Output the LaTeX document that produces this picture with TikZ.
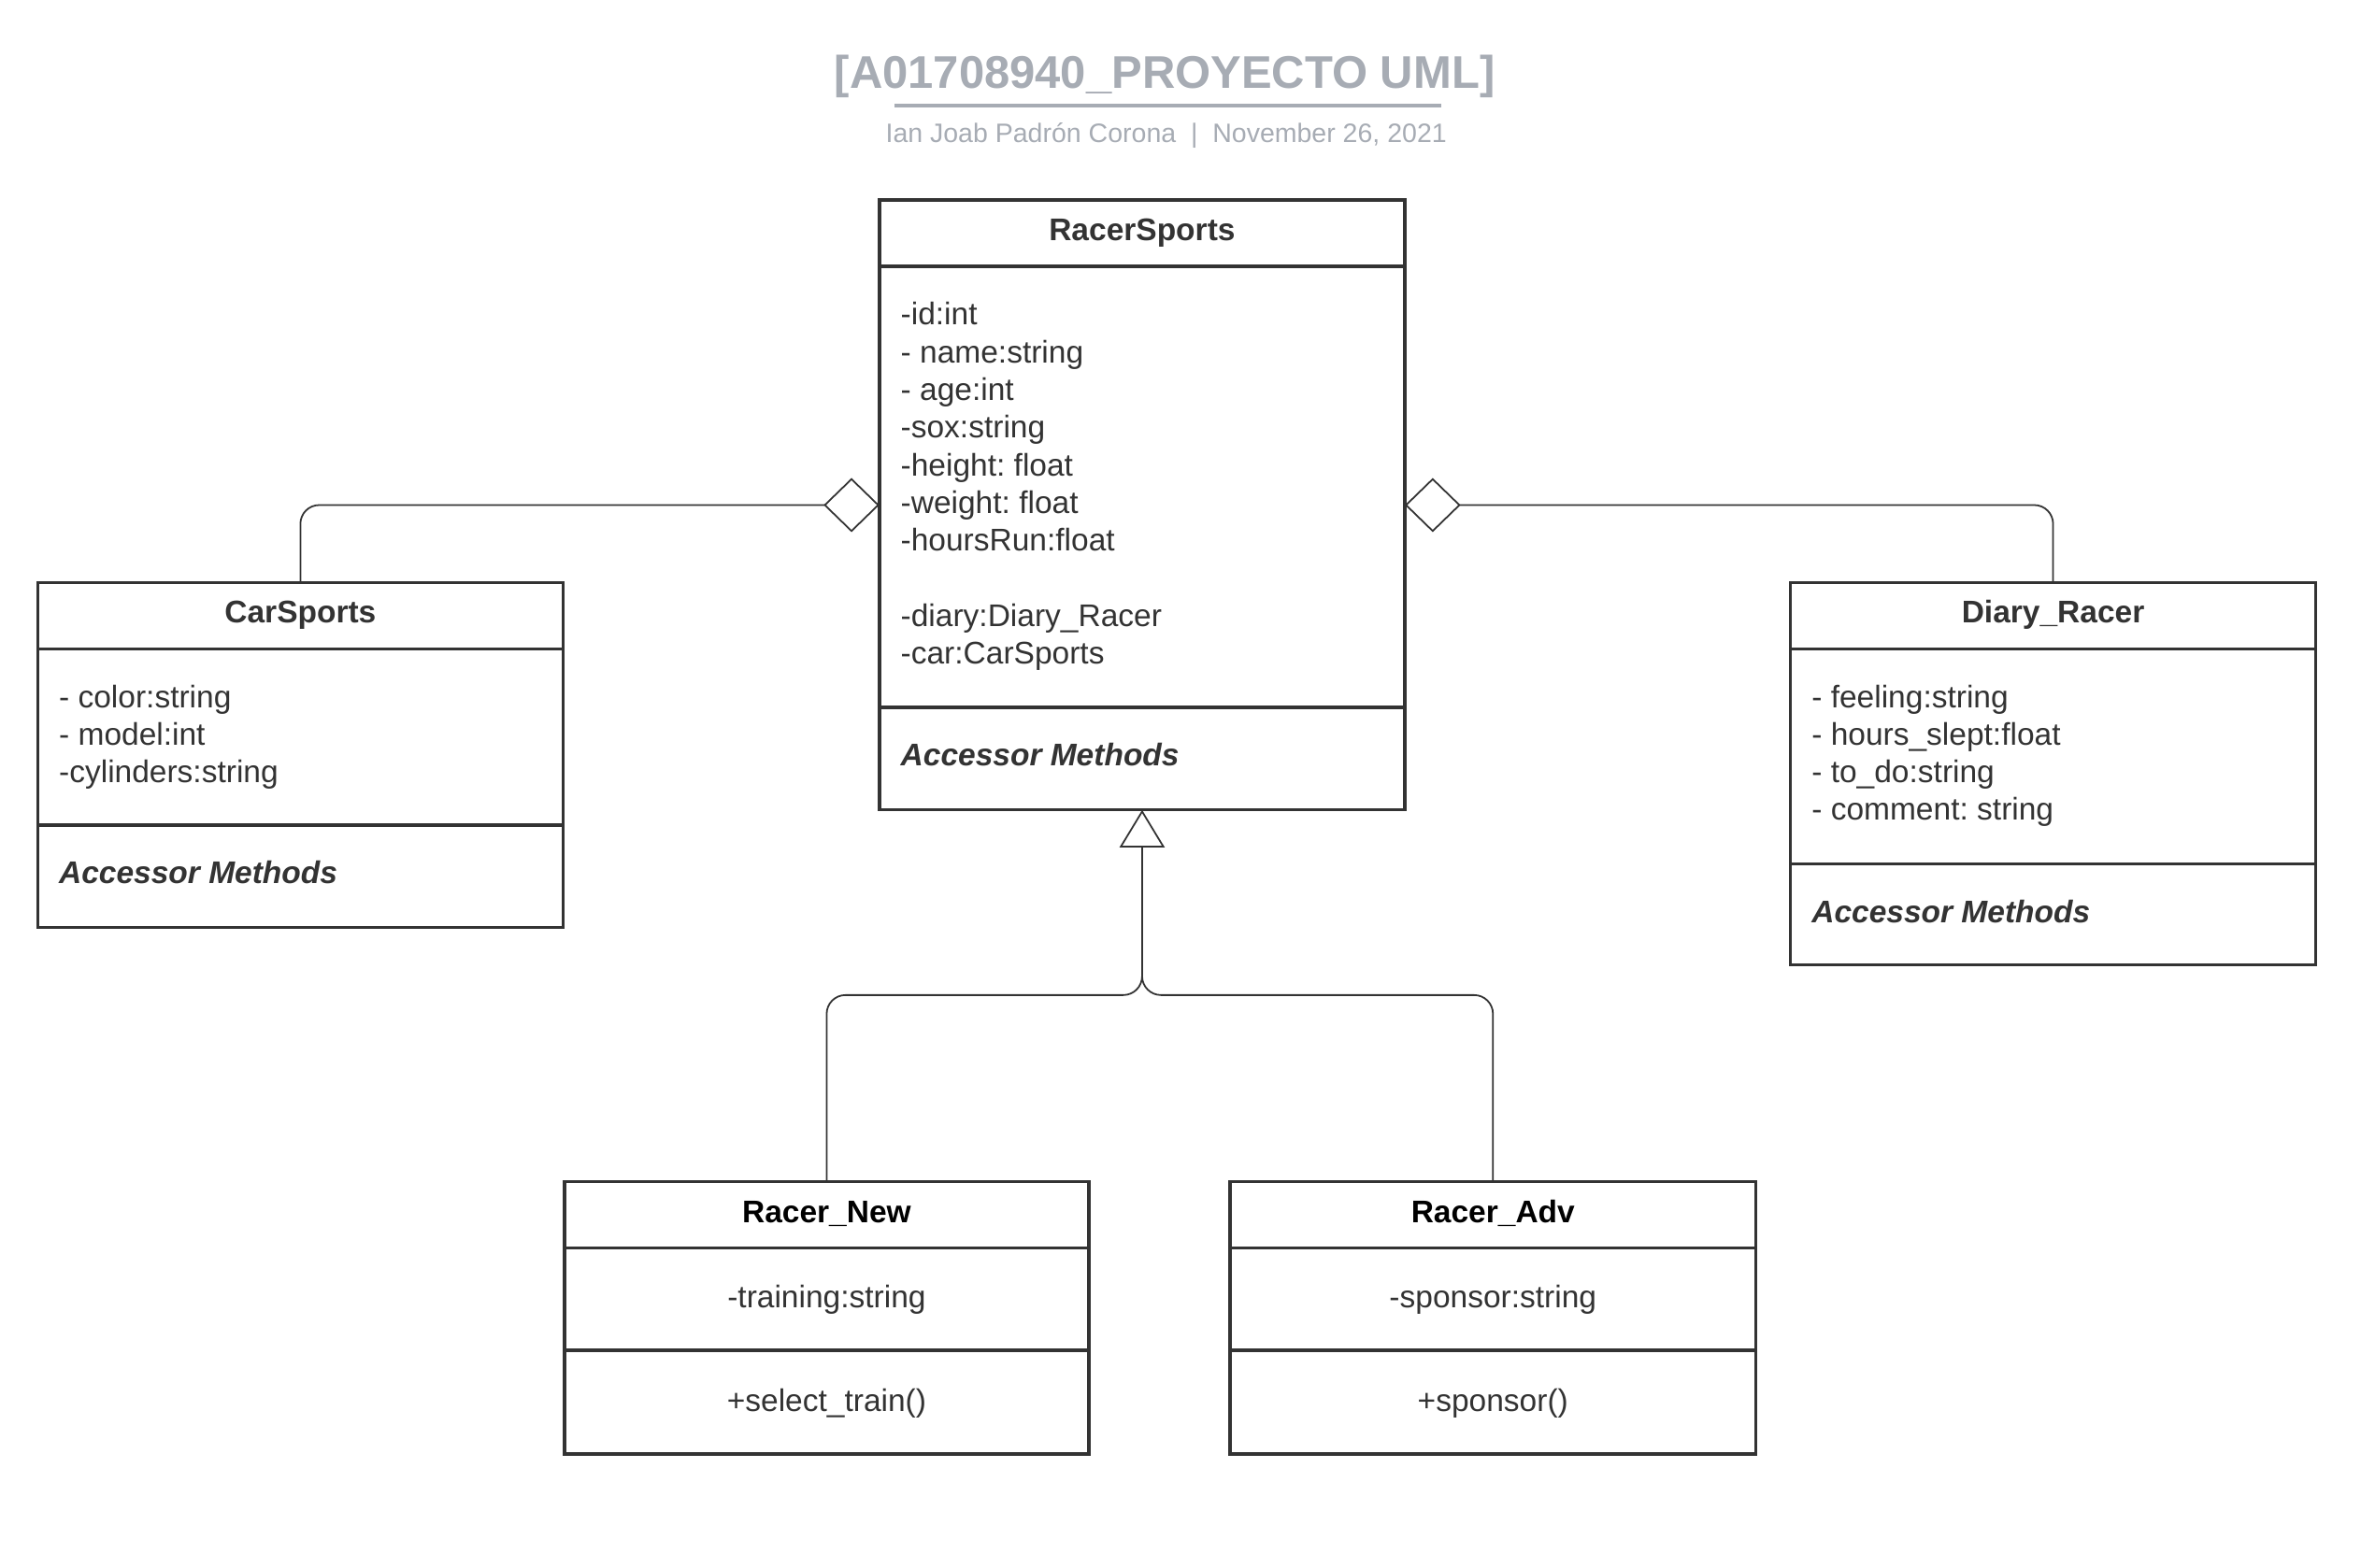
\documentclass[tikz,border=0pt]{standalone}
\usepackage{fontspec}
\setmainfont{Liberation Sans}
\usetikzlibrary{arrows.meta}
\frenchspacing

\definecolor{ink}{HTML}{333333}
\definecolor{headgray}{HTML}{A7ACB4}

\tikzset{
  classbox/.style={draw=ink, line width=2.2pt, fill=white, inner sep=0pt, outer sep=0pt},
  divider/.style={draw=ink, line width=2.2pt},
  classname/.style={font=\fontsize{20.8}{25}\selectfont\bfseries, text=ink, anchor=base, inner sep=0pt},
  member/.style={font=\fontsize{20.8}{25}\selectfont, text=ink, anchor=base west, align=left, inner sep=0pt},
  methods/.style={member, font=\fontsize{20.8}{25}\selectfont\bfseries\itshape},
  assoc/.style={draw=ink, line width=1.1pt, rounded corners=12.5pt},
  aggr/.style={assoc, -{Diamond[open, length=37pt, width=36pt]}},
  gen/.style={assoc, -{Triangle[open, length=25pt, width=30pt]}}
}

\begin{document}
\begin{tikzpicture}[x=1pt, y=-1pt]
        \fill[white] (0,0) rectangle (1568,1041.6);
        \useasboundingbox (0,0) rectangle (1568,1041.6);

        % heading
        \node[font=\fontsize{30.4}{36}\selectfont\bfseries, text=headgray, anchor=base, inner sep=0pt] (title) at (773.5,58.5) {[A01708940\_PROYECTO UML]};
        \draw[headgray, line width=2.5pt] (594,70) -- (957,70);
        \node[font=\fontsize{17.7}{21}\selectfont, text=headgray, anchor=base, inner sep=0pt] (byline) at (774.5,94.5) {Ian Joab Padrón Corona\ \ |\ \ November 26, 2021};

        % classes
        \node[classbox, minimum width=349pt, minimum height=405pt] (racer) at (758.5,335.5) {};
        \node[classbox, minimum width=349pt, minimum height=229pt] (carsports) at (199.5,501.5) {};
        \node[classbox, minimum width=349pt, minimum height=254pt] (diary) at (1363.5,514) {};
        \node[classbox, minimum width=348pt, minimum height=181pt] (racernew) at (549,875.5) {};
        \node[classbox, minimum width=349pt, minimum height=181pt] (raceradv) at (991.5,875.5) {};

        \draw[divider] ([yshift=-44pt]racer.north west) -- ([yshift=-44pt]racer.north east);
        \draw[divider] ([yshift=68pt]racer.south west) -- ([yshift=68pt]racer.south east);
        \draw[divider] ([yshift=-44pt]carsports.north west) -- ([yshift=-44pt]carsports.north east);
        \draw[divider] ([yshift=68pt]carsports.south west) -- ([yshift=68pt]carsports.south east);
        \draw[divider] ([yshift=-44pt]diary.north west) -- ([yshift=-44pt]diary.north east);
        \draw[divider] ([yshift=67pt]diary.south west) -- ([yshift=67pt]diary.south east);
        \draw[divider] ([yshift=-44pt]racernew.north west) -- ([yshift=-44pt]racernew.north east);
        \draw[divider] ([yshift=69pt]racernew.south west) -- ([yshift=69pt]racernew.south east);
        \draw[divider] ([yshift=-44pt]raceradv.north west) -- ([yshift=-44pt]raceradv.north east);
        \draw[divider] ([yshift=69pt]raceradv.south west) -- ([yshift=69pt]raceradv.south east);

        % anchor base of a multi-line node = last line
        \node[classname] (racer-name) at ([yshift=-27pt]racer.north) {RacerSports};
        \node[member] (racer-attr) at ([xshift=14pt, yshift=-308pt]racer.north west) {-id:int\\- name:string\\- age:int\\-sox:string\\-height: float\\-weight: float\\-hoursRun:float\\[25pt]-diary:Diary\_Racer\\-car:CarSports};
        \node[methods] (racer-ops) at ([xshift=14pt, yshift=29pt]racer.south west) {Accessor Methods};

        \node[classname] (carsports-name) at ([yshift=-27pt]carsports.north) {CarSports};
        \node[member] (carsports-attr) at ([xshift=14pt, yshift=-133pt]carsports.north west) {- color:string\\- model:int\\-cylinders:string};
        \node[methods] (carsports-ops) at ([xshift=14pt, yshift=29pt]carsports.south west) {Accessor Methods};

        \node[classname] (diary-name) at ([yshift=-27pt]diary.north) {Diary\_Racer};
        \node[member] (diary-attr) at ([xshift=14pt, yshift=-158pt]diary.north west) {- feeling:string\\- hours\_slept:float\\- to\_do:string\\- comment: string};
        \node[methods] (diary-ops) at ([xshift=14pt, yshift=28pt]diary.south west) {Accessor Methods};

        \node[classname, text=black] (racernew-name) at ([yshift=-27pt]racernew.north) {Racer\_New};
        \node[member, anchor=base] (racernew-attr) at ([yshift=-83.5pt]racernew.north) {-training:string};
        \node[member, anchor=base] (racernew-ops) at ([yshift=28.5pt]racernew.south) {+select\_train()};

        \node[classname, text=black] (raceradv-name) at ([yshift=-27pt]raceradv.north) {Racer\_Adv};
        \node[member, anchor=base] (raceradv-attr) at ([yshift=-83.5pt]raceradv.north) {-sponsor:string};
        \node[member, anchor=base] (raceradv-ops) at ([yshift=28.5pt]raceradv.south) {+sponsor()};

        % relations
        \draw[aggr] (carsports.north) |- (racer.west);
        \draw[aggr] (diary.north) |- (racer.east);
        \coordinate (split) at (758.5,661);
        \coordinate (stem) at (758.5,620);
        \draw[gen] (racernew.north) |- (split) -- (racer.south);
        \draw[assoc] (raceradv.north) |- (split) -- (stem);
    \end{tikzpicture}
\end{document}
